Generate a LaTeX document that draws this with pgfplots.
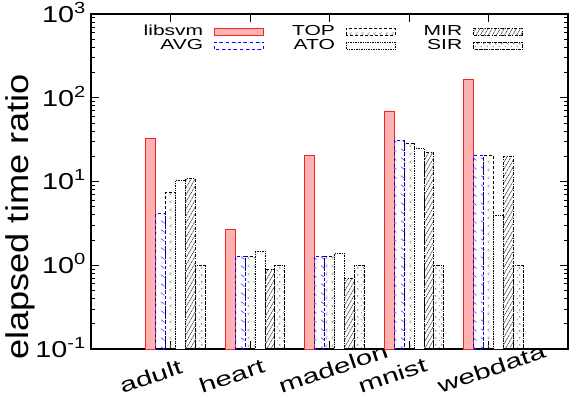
\documentclass[border=0pt]{standalone}
\usepackage{fontspec}
\setmainfont{Liberation Sans}
\newfontfamily\fa{Liberation Sans}[FakeStretch=1.15]
\newfontfamily\fb{Liberation Sans}[FakeStretch=1.45]
\newfontfamily\fc{Liberation Sans}[FakeStretch=1.25]
\usepackage{pgfplots}
\usepackage{pgfplotstable}
\pgfplotsset{compat=1.18}
\usetikzlibrary{patterns,patterns.meta}

\definecolor{libfill}{RGB}{255,178,178}
\definecolor{libred}{RGB}{235,40,40}

% hatch patterns, roughly like gnuplot's
\tikzdeclarepattern{name=bdash, type=uncolored,
  bottom left={(0pt,0pt)}, top right={(8pt,9pt)}, tile size={(8pt,9pt)},
  code={\draw[line width=0.6pt] (1pt,7pt) -- (5pt,4pt);}}
\tikzdeclarepattern{name=chev, type=uncolored,
  bottom left={(0pt,0pt)}, top right={(6pt,8pt)}, tile size={(6pt,8pt)},
  code={\draw[line width=0.5pt] (4pt,6pt) -- (2pt,4.5pt) -- (4pt,3pt);}}
\tikzdeclarepattern{name=dotx, type=uncolored,
  bottom left={(0pt,0pt)}, top right={(6pt,7pt)}, tile size={(6pt,7pt)},
  code={\fill (1.5pt,1.5pt) circle (0.7pt);
        \draw[line width=0.5pt] (3.5pt,4pt) -- (5pt,5.5pt) (3.5pt,5.5pt) -- (5pt,4pt);}}

\pgfplotsset{barleg/.style={legend image code/.code={%
  \draw[##1] (0pt,-3.5pt) rectangle (49pt,3.5pt);}}}

\pgfplotstableread{
x libsvm AVG TOP ATO MIR SIR
0 33   4.14 7.4  10.2 10.8 1.0
1 2.67 1.29 1.29 1.48 0.90 1.0
2 20.4 1.29 1.29 1.38 0.69 1.0
3 69.5 30.8 28.4 24.7 22.2 1.0
4 166  20.6 20.6 3.92 19.9 1.0
}\timetab

\begin{document}
\begin{tikzpicture}
\path[use as bounding box] (-91pt,-49pt) rectangle (481pt,349pt);
\begin{axis}[
  scale only axis, width=477pt, height=335pt,
  ymode=log, ymin=0.1, ymax=1000,
  xmin=-1, xmax=5,
  ybar, bar width=0.125, log origin=infty,
  xtick={0,1,2,3,4},
  xticklabels={adult,heart,madelon,mnist,webdata},
  ytick={0.1,1,10,100,1000},
  yticklabels={10\textsuperscript{-1},10\textsuperscript{0},10\textsuperscript{1},10\textsuperscript{2},10\textsuperscript{3}},
  minor ytick={0.2,0.3,0.4,0.5,0.6,0.7,0.8,0.9,2,3,4,5,6,7,8,9,20,30,40,50,60,70,80,90,200,300,400,500,600,700,800,900},
  tick align=inside, major tick length=8pt, minor tick length=4pt,
  axis line style={line width=1.2pt},
  tick style={line width=0.8pt, black},
  xticklabel style={font=\fb\fontsize{20.5}{20.5}\selectfont, inner sep=0pt,
    anchor=base west, xshift=-48pt, yshift=-45pt, rotate=19},
  yticklabel style={font=\fc\fontsize{23}{23}\selectfont, inner sep=0pt,
    anchor=base east, xshift=-5pt, yshift=-8.3pt},
  ylabel={elapsed time ratio},
  every axis y label/.style={at={(rel axis cs:0,0)}, xshift=-71pt, yshift=132pt,
    rotate=90, anchor=center, font=\fa\fontsize{31.5}{31.5}\selectfont},
  legend columns=3,
  legend plot pos=right,
  legend cell align=right,
  legend style={draw=none, fill=none, at={(0.508,0.967)}, anchor=north,
    inner sep=0pt, outer sep=0pt, row sep=1pt,
    font=\fb\fontsize{14.5}{14.5}\selectfont,
    nodes={inner sep=0pt, text height=10pt, text depth=3pt},
    /tikz/every odd column/.style={column sep=11pt},
    /tikz/every even column/.style={column sep=28pt}},
]
\addplot[barleg, bar shift=-0.25, fill=libfill, draw=libred, line width=0.9pt]
  table[x=x,y=libsvm]{\timetab};
\addplot[barleg, bar shift=0, draw=black, densely dashed, line width=0.7pt,
  pattern=chev, pattern color=gray]
  table[x=x,y=TOP]{\timetab};
\addplot[barleg, bar shift=0.25, draw=black, line width=0.7pt,
  dash pattern=on 3pt off 1.5pt on 0.8pt off 1.5pt,
  pattern={Lines[angle=60,distance=3.5pt,line width=0.5pt]}, pattern color=black!80]
  table[x=x,y=MIR]{\timetab};
\addplot[barleg, bar shift=-0.125, draw=blue, dashed, line width=0.7pt,
  pattern=bdash, pattern color=blue!80]
  table[x=x,y=AVG]{\timetab};
\addplot[barleg, bar shift=0.125, draw=black, densely dotted, line width=0.7pt, fill=white]
  table[x=x,y=ATO]{\timetab};
\addplot[barleg, bar shift=0.375, draw=black, densely dashdotted, line width=0.7pt,
  pattern=dotx, pattern color=gray]
  table[x=x,y=SIR]{\timetab};
\legend{libsvm,TOP,MIR,AVG,ATO,SIR}
\end{axis}
\end{tikzpicture}
\end{document}
